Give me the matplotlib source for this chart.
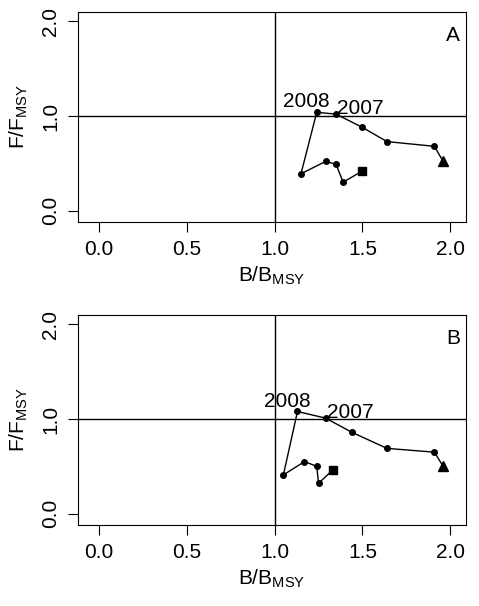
import matplotlib
matplotlib.use("Agg")
import matplotlib.pyplot as plt
plt.rcParams['font.family'] = ['Liberation Sans', 'DejaVu Sans']
plt.rcParams['mathtext.fontset'] = 'custom'
plt.rcParams['mathtext.rm'] = 'Liberation Sans'

bA = [1.96, 1.91, 1.64, 1.50, 1.35, 1.24, 1.15, 1.29, 1.35, 1.39, 1.50]
fA = [0.52, 0.68, 0.73, 0.88, 1.02, 1.04, 0.39, 0.52, 0.49, 0.30, 0.42]
bB = [1.96, 1.91, 1.64, 1.44, 1.29, 1.13, 1.05, 1.17, 1.24, 1.25, 1.33]
fB = [0.50, 0.65, 0.69, 0.86, 1.01, 1.08, 0.41, 0.55, 0.50, 0.32, 0.46]
panels = ["A", "B"]
xticks = [0.0, 0.5, 1.0, 1.5, 2.0]
yticks = [0.0, 1.0, 2.0]

fig = plt.figure(figsize=(4.79, 6.06), dpi=100)
rects = [[78/479, 1-222/606, 388/479, 210/606], [78/479, 1-525/606, 388/479, 210/606]]
for r, b, f, lab in zip(rects, [bA, bB], [fA, fB], panels):
    ax = fig.add_axes(r)
    ax.plot(b, f, color="black", lw=1)
    ax.plot(b[1:-1], f[1:-1], "o", color="black", ms=4)
    ax.plot(b[0], f[0], "^", color="black", ms=7)
    ax.plot(b[-1], f[-1], "s", color="black", ms=6)
    ax.axhline(1.0, color="black", lw=1)
    ax.axvline(1.0, color="black", lw=1)
    ax.text(b[5] - 0.06, f[5] + 0.01, "2008", ha="center", va="bottom", fontsize=15)
    ax.text(b[4] + 0.14, f[4] - 0.04, "2007", ha="center", va="bottom", fontsize=15)
    ax.text(0.985, 0.86, lab, transform=ax.transAxes, ha="right", fontsize=15)
    ax.set_xlim(-0.12, 2.09)
    ax.set_ylim(-0.12, 2.1)
    ax.tick_params(length=7, pad=6)
    ax.set_xticks(xticks)
    ax.set_xticklabels([f"{v:.1f}" for v in xticks], fontsize=15)
    ax.set_yticks(yticks)
    ax.set_yticklabels([f"{v:.1f}" for v in yticks], fontsize=15, rotation=90, va="center")
    ax.set_xlabel(r"B/B$_{\mathrm{MSY}}$", fontsize=15)
    ax.set_ylabel(r"F/F$_{\mathrm{MSY}}$", fontsize=15, labelpad=8)
fig.savefig("out.png", dpi=100)
